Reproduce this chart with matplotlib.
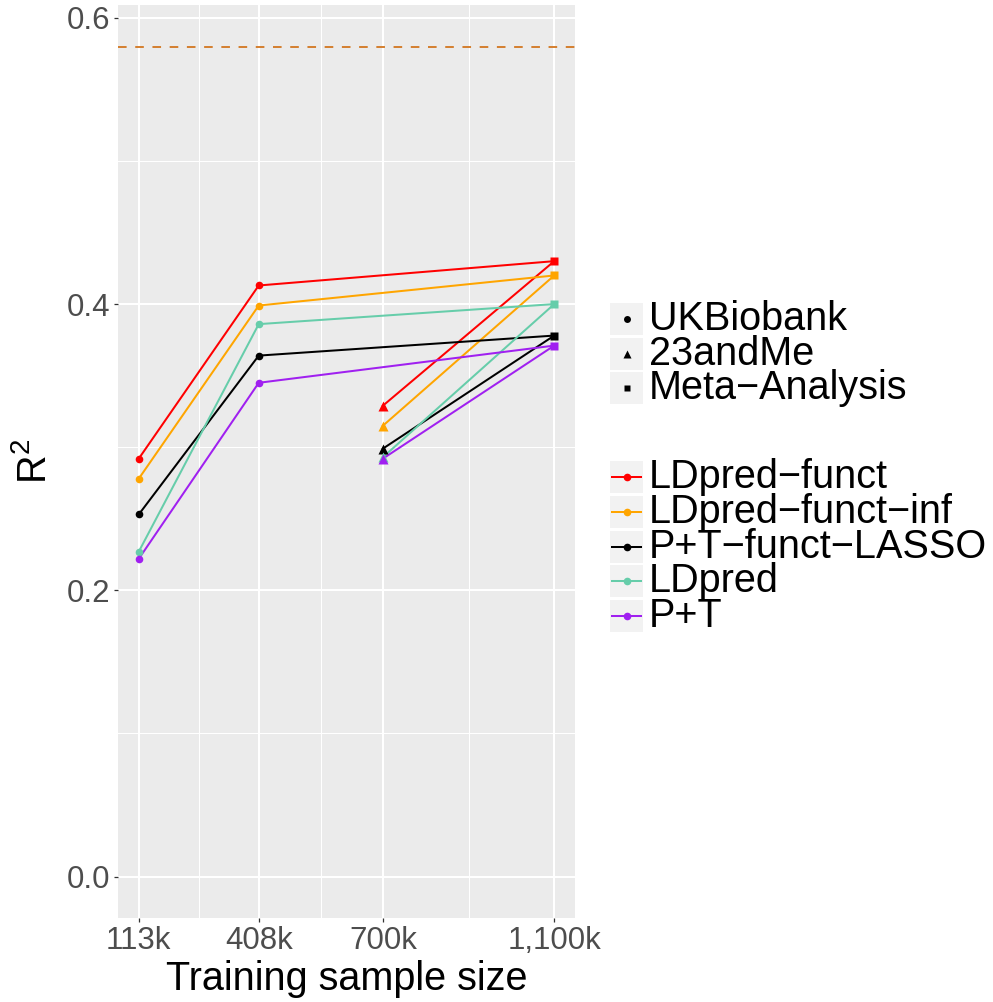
import matplotlib
matplotlib.use("Agg")
import matplotlib.pyplot as plt
from matplotlib.lines import Line2D
from matplotlib.patches import Rectangle

plt.rcParams['font.family'] = ['Liberation Sans', 'DejaVu Sans']
plt.rcParams['mathtext.fontset'] = 'custom'
plt.rcParams['mathtext.rm'] = 'Liberation Sans'
plt.rcParams['mathtext.it'] = 'Liberation Sans'
plt.rcParams['lines.scale_dashes'] = False

# ---- data ----
# x positions (thousands) as placed on the reference's linear axis
sample_sizes = [113, 398, 693, 1100]
tick_labels = ["113k", "408k", "700k", "1,100k"]
sources = ["UKBiobank", "23andMe", "Meta\u2212Analysis"]
methods = ["LDpred\u2212funct", "LDpred\u2212funct\u2212inf", "P+T\u2212funct\u2212LASSO", "LDpred", "P+T"]
colors = ["#FF0000", "#FFA500", "#000000", "#66CDAA", "#A020F0"]

# R^2 at 113k (UKB), 408k (UKB), 700k (23andMe), 1100k (Meta)
r2_ldpred_funct = [0.292, 0.413, 0.329, 0.430]
r2_ldpred_funct_inf = [0.278, 0.399, 0.315, 0.420]
r2_pt_funct_lasso = [0.253, 0.364, 0.299, 0.378]
r2_ldpred = [0.227, 0.386, 0.293, 0.400]
r2_pt = [0.222, 0.345, 0.292, 0.371]
all_r2 = [r2_ldpred_funct, r2_ldpred_funct_inf, r2_pt_funct_lasso, r2_ldpred, r2_pt]

reference_r2 = 0.58

W, H = 993, 1002
fig = plt.figure(figsize=(W / 100, H / 100), dpi=100)
ax = fig.add_axes([118 / W, 1 - 918 / H, (575 - 118) / W, (918 - 5) / H])
ax.set_facecolor('#EBEBEB')
for s in ax.spines.values():
    s.set_visible(False)

lw = 1.45
ms = 5.5
# lines
for vals, c in zip(all_r2, colors):
    ax.plot([sample_sizes[0], sample_sizes[1], sample_sizes[3]],
            [vals[0], vals[1], vals[3]], color=c, lw=lw, zorder=3)
    ax.plot([sample_sizes[2], sample_sizes[3]], [vals[2], vals[3]],
            color=c, lw=lw, zorder=3)
# points
for vals, c in zip(all_r2, colors):
    ax.plot(sample_sizes[:2], vals[:2], 'o', color=c, ms=ms, mec='none', zorder=4)
    ax.plot([sample_sizes[2]], [vals[2]], '^', color=c, ms=ms + 1.2, mec='none', zorder=4)
    ax.plot([sample_sizes[3]], [vals[3]], 's', color=c, ms=ms, mec='none', zorder=4)

ax.axhline(reference_r2, color='#D47F2E', lw=1.4, dashes=(6.2, 6.2), zorder=3)

# scales
xr = sample_sizes[-1] - sample_sizes[0]
ax.set_xlim(sample_sizes[0] - 0.05 * xr, sample_sizes[-1] + 0.05 * xr)
yr = reference_r2 - 0.0
ax.set_ylim(0 - 0.05 * yr, reference_r2 + 0.05 * yr)

ax.set_xticks(sample_sizes)
ax.set_xticklabels(tick_labels)
minor_x = [(a + b) / 2 for a, b in zip(sample_sizes[:-1], sample_sizes[1:])]
ax.set_xticks(minor_x, minor=True)
ax.set_yticks([0.0, 0.2, 0.4, 0.6])
ax.set_yticklabels(["0.0", "0.2", "0.4", "0.6"])
ax.set_yticks([0.1, 0.3, 0.5], minor=True)

ax.grid(which='major', color='white', lw=1.5, zorder=0)
ax.grid(which='minor', color='white', lw=0.75, zorder=0)
ax.set_axisbelow(True)
ax.tick_params(which='major', length=3.2, width=0.9, color='#333333',
               labelsize=22.5, labelcolor='#4D4D4D', pad=2.5)
ax.tick_params(which='minor', length=0)

ax.set_xlabel("Training sample size", fontsize=28.5, labelpad=3)
ax.set_ylabel(r"R$^2$", fontsize=28.5)
ax.yaxis.set_label_coords(-0.141, 0.5)

# ---- legends (manual, ggplot style) ----
def key_box(y_center):
    fig.add_artist(Rectangle((610 / W, 1 - (y_center + 16) / H), 33 / W, 32 / H,
                             transform=fig.transFigure, facecolor='#F2F2F2',
                             edgecolor='none'))

shape_markers = ['o', '^', 's']
shape_sizes = [5.0, 6.0, 5.0]
shape_y = [319, 354, 388]
for lab, mk, msz, yc in zip(sources, shape_markers, shape_sizes, shape_y):
    key_box(yc)
    fig.add_artist(Line2D([626.5 / W], [1 - yc / H], marker=mk, color='black',
                          ms=msz, mec='none', transform=fig.transFigure, ls='none'))
    fig.text(649 / W, 1 - yc / H, lab, fontsize=28.5, va='center', ha='left')

color_y = [477, 512, 547, 581, 616]
for lab, c, yc in zip(methods, colors, color_y):
    key_box(yc)
    fig.add_artist(Line2D([612 / W, 641 / W], [1 - yc / H, 1 - yc / H], color=c,
                          lw=lw, transform=fig.transFigure))
    fig.add_artist(Line2D([626.5 / W], [1 - yc / H], marker='o', color=c,
                          ms=ms, mec='none', transform=fig.transFigure, ls='none'))
    fig.text(649 / W, 1 - yc / H, lab, fontsize=28.5, va='center', ha='left')

fig.savefig("out.png", dpi=100)
